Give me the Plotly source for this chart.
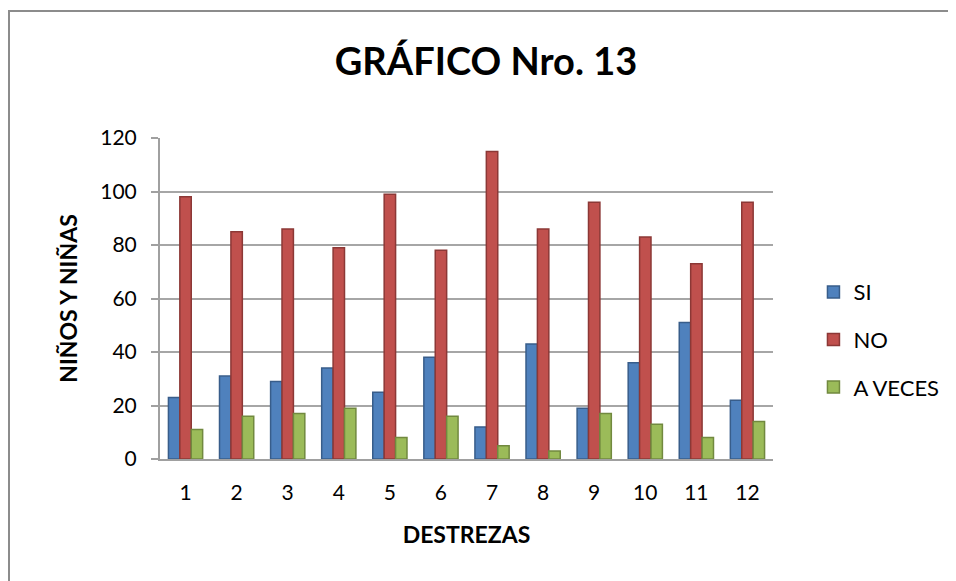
import plotly.graph_objects as go

categories = ["1", "2", "3", "4", "5", "6", "7", "8", "9", "10", "11", "12"]
si = [23, 31, 29, 34, 25, 38, 12, 43, 19, 36, 51, 22]
no = [98, 85, 86, 79, 99, 78, 115, 86, 96, 83, 73, 96]
a_veces = [11, 16, 17, 19, 8, 16, 5, 3, 17, 13, 8, 14]
y_ticks = [0, 20, 40, 60, 80, 100, 120]

series = [
    ("SI", si, "#4F81BD", "#385D8A"),
    ("NO", no, "#C0504D", "#8C3836"),
    ("A VECES", a_veces, "#9BBB59", "#71893F"),
]

fig = go.Figure()
for i, (name, vals, col, edge) in enumerate(series):
    fig.add_trace(go.Bar(
        x=categories, y=vals, name=name,
        marker=dict(color=col, line=dict(color=edge, width=1.5)),
        legendgroup=name,
    ))

font = "Lato, 'Open Sans', sans-serif"
W, H = 956, 581
L, T, B, R = 152, 130, 130, 191
PW = W - L - R
PH = H - T - B
fig.update_layout(
    width=W, height=H,
    margin=dict(l=L, r=R, t=T, b=B),
    paper_bgcolor="white", plot_bgcolor="white",
    barmode="group", bargap=0.33, bargroupgap=0.0,
    title=dict(text="<b>GRÁFICO Nro. 13</b>", x=0.5, xanchor="center",
               y=1 - 54 / H, yanchor="middle",
               font=dict(family=font, size=38, color="black")),
    font=dict(family=font, size=21, color="black"),
    legend=dict(x=1.066, xanchor="left", y=0.372, yanchor="middle",
                font=dict(size=22), tracegroupgap=16, itemwidth=30,
                bgcolor="rgba(0,0,0,0)"),
    showlegend=True,
)
fig.update_xaxes(
    showgrid=False, showline=True, linecolor="#A0A0A0", linewidth=2,
    ticks="", tickfont=dict(size=21), ticklabelstandoff=14,
    title=dict(text="<b>DESTREZAS</b>", font=dict(size=23), standoff=24),
)
fig.update_yaxes(
    range=[0, 120], tickvals=y_ticks, showgrid=True, gridcolor="#A6A6A6",
    gridwidth=2, showline=True, linecolor="#A0A0A0", linewidth=2,
    ticks="outside", ticklen=7, tickcolor="#A0A0A0", tickwidth=2,
    tickfont=dict(size=21), ticklabelstandoff=10,
    title=dict(text="<b>NIÑOS Y NIÑAS</b>", font=dict(size=23), standoff=16),
)
fig.add_shape(type="rect", xref="paper", yref="paper",
              x0=-(L - 1) / PW, x1=1.5, y0=-0.6, y1=(PH + T - 3) / PH,
              line=dict(color="#8C8C8C", width=2), fillcolor="rgba(0,0,0,0)",
              layer="below")

fig.write_html("out.html")
